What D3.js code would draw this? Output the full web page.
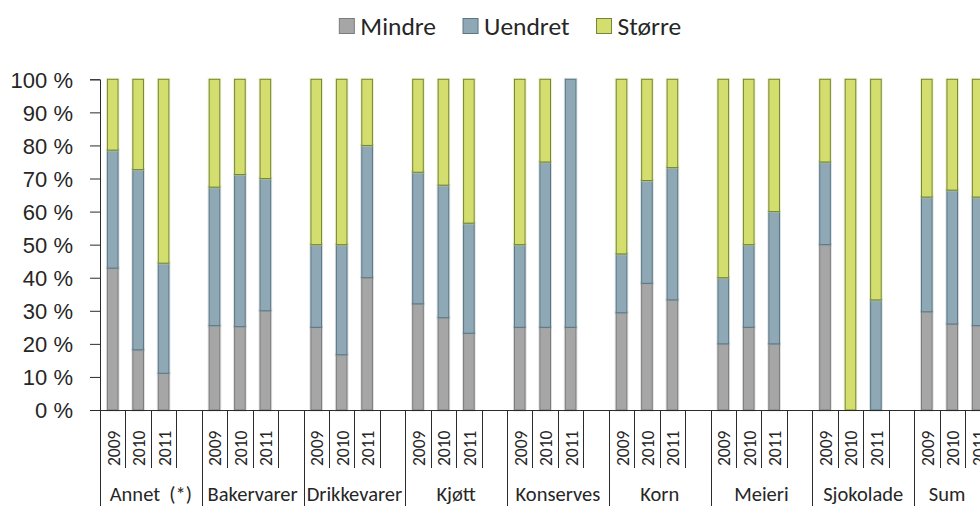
<!DOCTYPE html>
<html>
<head>
<meta charset="utf-8">
<script src="https://cdn.jsdelivr.net/npm/d3@7"></script>
<style>
  html, body { margin: 0; padding: 0; background: #fff; }
  svg { display: block; font-family: Carlito, Lato, "Open Sans", sans-serif; }
</style>
</head>
<body>
<svg id="chart" width="980" height="506"></svg>
<script>
// Product groups and survey years
const categories = ["Annet  (*)", "Bakervarer", "Drikkevarer", "Kjøtt", "Konserves", "Korn", "Meieri", "Sjokolade", "Sum"];
const years = ["2009", "2010", "2011"];

// Share of answers (%) per group and year, in category order, years 2009–2011
const mindre  = [42.9, 18.2, 11.1,  25.5, 25.2, 30.0,  25.0, 16.7, 40.0,  32.1, 27.9, 23.2,  25.0, 25.0, 25.0,  29.4, 38.3, 33.3,  20.0, 25.0, 20.0,  50.0, 0.0, 0.0,    29.7, 26.0, 25.5];
const uendret = [35.7, 54.5, 33.3,  41.9, 46.0, 40.0,  25.0, 33.3, 40.0,  39.8, 40.1, 33.3,  25.0, 50.0, 75.0,  17.8, 31.1, 40.0,  20.0, 25.0, 40.0,  25.0, 0.0, 33.3,   34.7, 40.5, 38.9];
const storre  = [21.4, 27.3, 55.6,  32.6, 28.8, 30.0,  50.0, 50.0, 20.0,  28.1, 32.0, 43.5,  50.0, 25.0, 0.0,   52.8, 30.6, 26.7,  60.0, 50.0, 40.0,  25.0, 100.0, 66.7, 35.6, 33.5, 35.6];

const seriesNames = ["Mindre", "Uendret", "Større"];
const yTicks = [0, 10, 20, 30, 40, 50, 60, 70, 80, 90, 100];

const fills   = { "Mindre": "#a6a6a6", "Uendret": "#8fa8b5", "Større": "#d3de6f" };
const strokes = { "Mindre": "#7b7b7b", "Uendret": "#5b7582", "Større": "#738638" };

const svg = d3.select("#chart");
const W = 980, H = 506;
const plotLeft = 100, slotW = 25.44, plotTop = 79.3, plotBottom = 410;
const slotsPerGroup = years.length + 1;   // three years plus an empty gap slot
const nSlots = categories.length * slotsPerGroup;
const plotRight = plotLeft + nSlots * slotW;

// Slot keys: every group gets its years and a trailing blank slot
const slotKeys = [];
categories.forEach(c => {
  years.forEach(y => slotKeys.push(c + "|" + y));
  slotKeys.push(c + "|gap");
});

// Rows for stacking
const rows = [];
categories.forEach((c, ci) => {
  years.forEach((y, yi) => {
    const i = ci * years.length + yi;
    rows.push({ key: c + "|" + y, cat: c, year: y,
      "Mindre": mindre[i], "Uendret": uendret[i], "Større": storre[i] });
  });
});

const x = d3.scaleBand().domain(slotKeys).range([plotLeft, plotRight])
  .paddingInner(0.583).paddingOuter(0.2915);
const y = d3.scaleLinear().domain([0, 100]).range([plotBottom, plotTop]);

const stacked = d3.stack().keys(seriesNames)(rows);

// Bars
const layers = svg.append("g").selectAll("g").data(stacked).join("g");
layers.each(function(layer) {
  const g = d3.select(this);
  const name = layer.key;
  const segs = layer.filter(d => d[1] - d[0] > 0);
  // soft halo around each segment
  g.selectAll("rect.halo").data(segs).join("rect")
    .attr("class", "halo")
    .attr("x", d => x(d.data.key))
    .attr("width", x.bandwidth())
    .attr("y", d => y(d[1]))
    .attr("height", d => y(d[0]) - y(d[1]))
    .attr("fill", "none")
    .attr("stroke", fills[name])
    .attr("stroke-opacity", 0.35)
    .attr("stroke-width", 3);
  g.selectAll("rect.seg").data(segs).join("rect")
    .attr("class", "seg")
    .attr("x", d => x(d.data.key))
    .attr("width", x.bandwidth())
    .attr("y", d => y(d[1]))
    .attr("height", d => y(d[0]) - y(d[1]))
    .attr("fill", fills[name])
    .attr("stroke", strokes[name])
    .attr("stroke-width", 1);
});

const axisColor = "#2b2b2b";
const textColor = "#262626";

// Y axis
const yAxis = d3.axisLeft(y).tickValues(yTicks).tickSize(10).tickPadding(17)
  .tickFormat(d => d + " %");
const yG = svg.append("g").attr("transform", `translate(${plotLeft},0)`).call(yAxis);
yG.select(".domain").attr("stroke", axisColor);
yG.selectAll(".tick line").attr("stroke", axisColor);
yG.selectAll(".tick text").attr("fill", textColor).style("font-size", "22px")
  .attr("dy", "0.36em");

// X axis baseline
svg.append("line")
  .attr("x1", plotLeft).attr("x2", W + 5)
  .attr("y1", plotBottom + 0.5).attr("y2", plotBottom + 0.5)
  .attr("stroke", axisColor);

// Slot separators: short ones between years, long ones between groups
const boundaries = d3.range(nSlots + 1);
svg.append("g").selectAll("line").data(boundaries).join("line")
  .attr("x1", i => Math.round(plotLeft + i * slotW) + 0.5)
  .attr("x2", i => Math.round(plotLeft + i * slotW) + 0.5)
  .attr("y1", plotBottom)
  .attr("y2", i => i % slotsPerGroup === 0 ? H : 468)
  .attr("stroke", axisColor);

// Year labels (rotated)
svg.append("g").selectAll("text").data(rows).join("text")
  .attr("transform", d => `translate(${x(d.key) + x.bandwidth() / 2 + 7},466) rotate(-90)`)
  .attr("text-anchor", "start")
  .attr("fill", textColor)
  .style("font-size", "17.5px")
  .text(d => d.year);

// Group labels, centred on the visible part of each group
svg.append("g").selectAll("text").data(categories).join("text")
  .attr("x", (c, i) => {
    const g0 = plotLeft + i * slotsPerGroup * slotW;
    const g1 = Math.min(g0 + slotsPerGroup * slotW, W);
    return (g0 + g1) / 2;
  })
  .attr("y", 500.5)
  .attr("text-anchor", "middle")
  .attr("fill", textColor)
  .style("font-size", "20.5px")
  .style("white-space", "pre")
  .text(c => c);

// Legend
const legend = svg.append("g");
let lx = 0;
seriesNames.forEach((name, i) => {
  const item = legend.append("g").attr("transform", `translate(${lx},0)`);
  item.append("rect").attr("x", 0.5).attr("y", 18.5).attr("width", 15).attr("height", 15)
    .attr("fill", fills[name]).attr("stroke", strokes[name]);
  const t = item.append("text").attr("x", 21.5).attr("y", 26).attr("dy", "0.36em")
    .attr("fill", textColor).style("font-size", "25.5px").text(name);
  lx += 21.5 + t.node().getComputedTextLength() + 26.5;
});
const legendW = lx - 26.5;
legend.attr("transform", `translate(${510 - legendW / 2},0)`);
</script>
</body>
</html>
